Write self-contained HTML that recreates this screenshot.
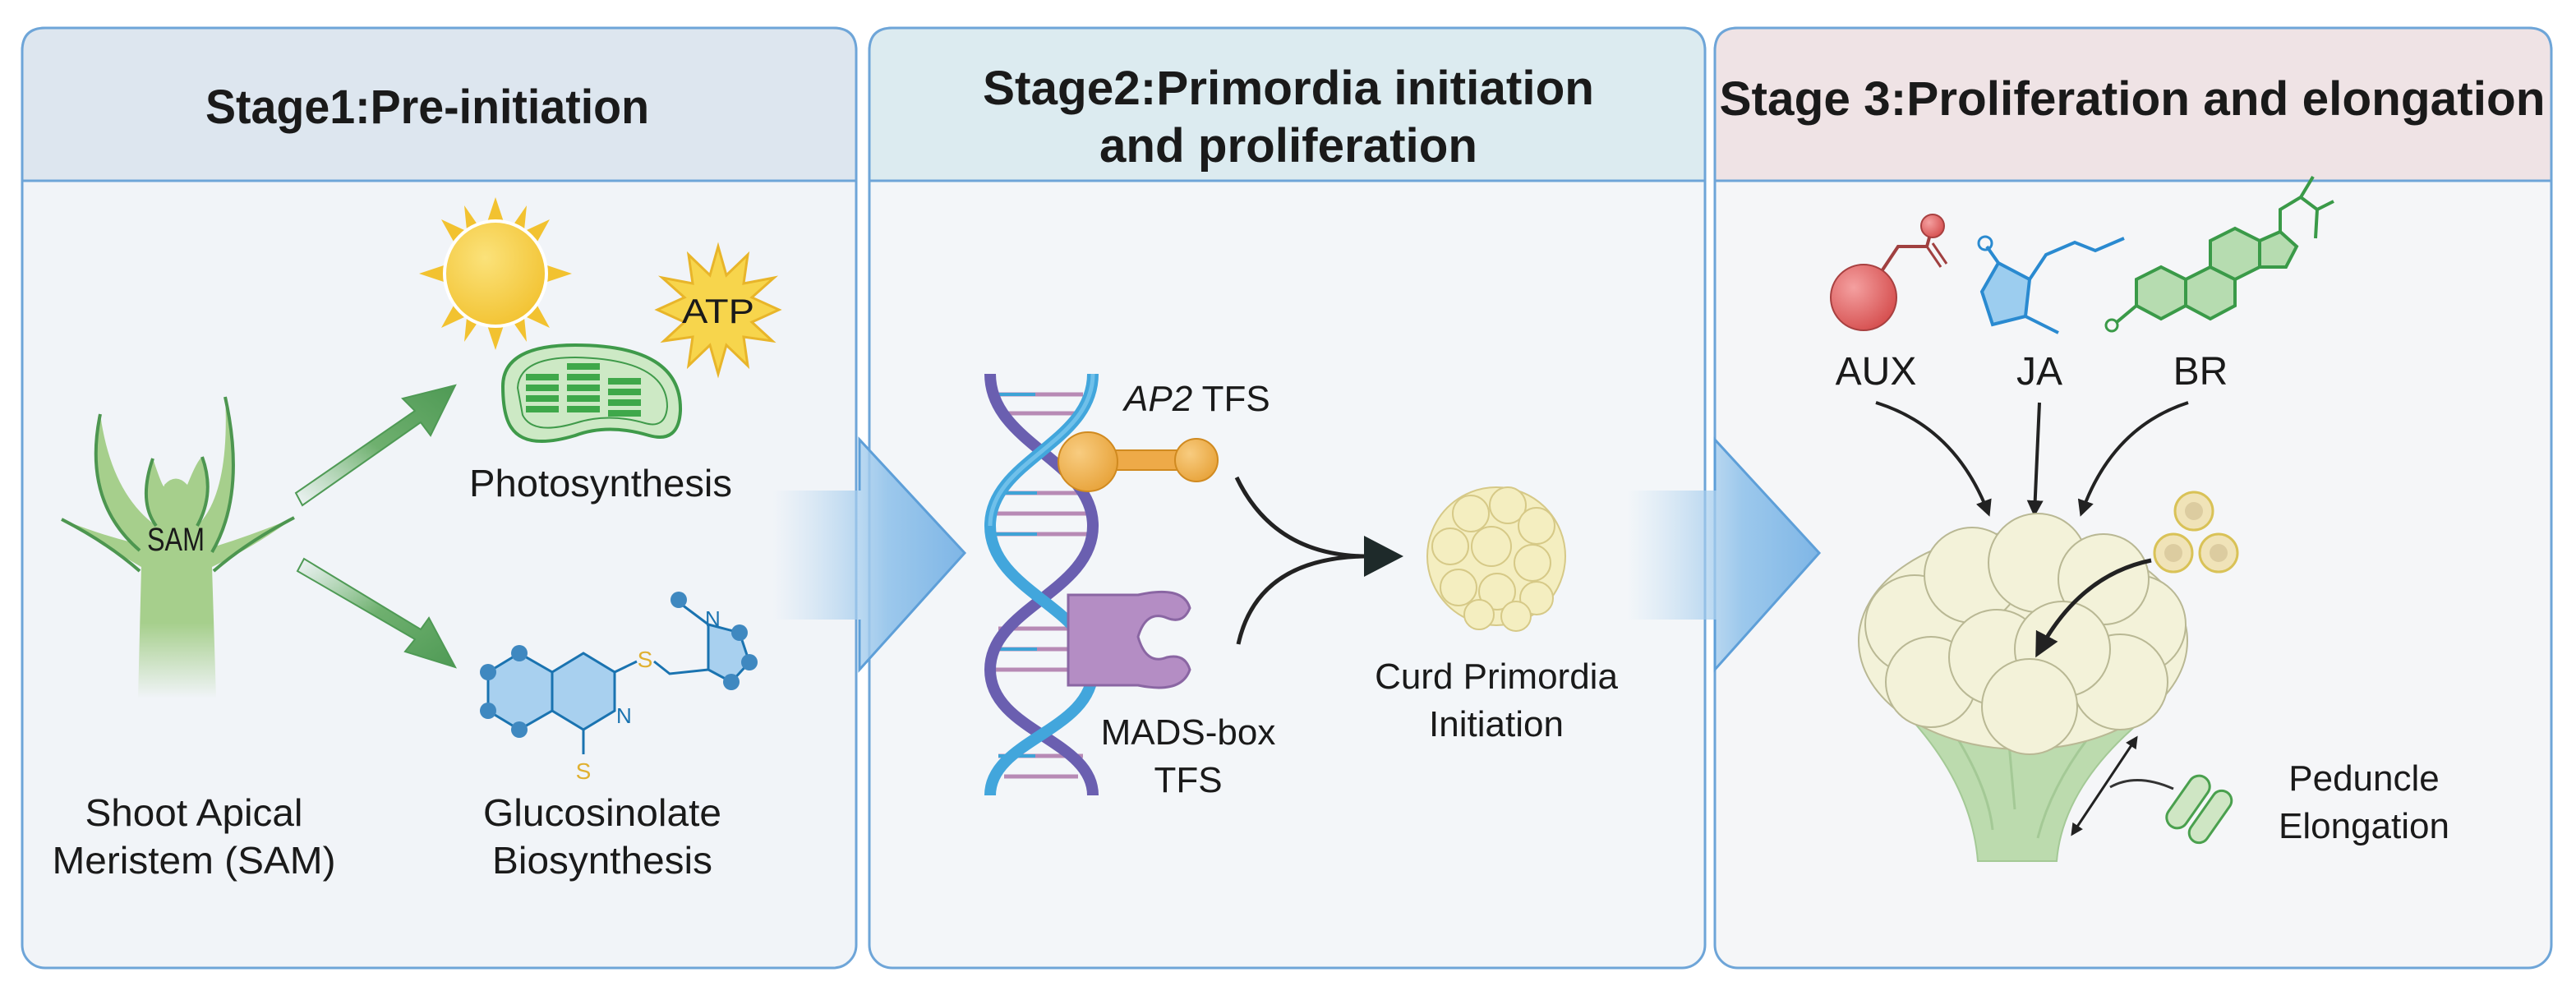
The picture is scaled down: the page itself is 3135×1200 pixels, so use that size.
<!DOCTYPE html>
<html><head><meta charset="utf-8"><style>
html,body{margin:0;padding:0;background:#fff;}
svg{display:block;}
text{font-family:"Liberation Sans",sans-serif;fill:#1a1a1a;}
</style></head><body>
<svg width="3135" height="1200" viewBox="0 0 3135 1200" xmlns="http://www.w3.org/2000/svg">
<defs>
<linearGradient id="ag" x1="0" x2="1" y1="0" y2="0">
<stop offset="0" stop-color="#bcd9f0" stop-opacity="0"/>
<stop offset="0.6" stop-color="#9cc8ec"/>
<stop offset="1" stop-color="#7fb6e6"/>
</linearGradient>
<linearGradient id="gr1" x1="0" x2="1" y1="1" y2="0">
<stop offset="0" stop-color="#7fbf7f" stop-opacity="0"/>
<stop offset="0.5" stop-color="#6fb06f"/>
<stop offset="1" stop-color="#4f9a55"/>
</linearGradient>
<linearGradient id="gr2" x1="0" x2="1" y1="0" y2="1">
<stop offset="0" stop-color="#7fbf7f" stop-opacity="0"/>
<stop offset="0.5" stop-color="#6fb06f"/>
<stop offset="1" stop-color="#4f9a55"/>
</linearGradient>
<linearGradient id="stemfade" x1="0" x2="0" y1="0" y2="1">
<stop offset="0.75" stop-color="#a6cf8c"/>
<stop offset="1" stop-color="#a6cf8c" stop-opacity="0"/>
</linearGradient>
<radialGradient id="sun" cx="0.4" cy="0.35" r="0.7">
<stop offset="0" stop-color="#fbe27a"/><stop offset="1" stop-color="#f2c230"/>
</radialGradient>
<radialGradient id="red" cx="0.35" cy="0.35" r="0.7">
<stop offset="0" stop-color="#f4a0a0"/><stop offset="1" stop-color="#d65050"/>
</radialGradient>
<radialGradient id="org" cx="0.35" cy="0.35" r="0.7">
<stop offset="0" stop-color="#f8cc80"/><stop offset="1" stop-color="#e8a43c"/>
</radialGradient>
<marker id="ah" viewBox="0 0 10 10" refX="8" refY="5" markerWidth="5" markerHeight="5" orient="auto-start-reverse">
<path d="M0,0 L10,5 L0,10 z" fill="#222"/></marker>
<marker id="ahs" viewBox="0 0 10 10" refX="8" refY="5" markerWidth="6" markerHeight="6" orient="auto-start-reverse">
<path d="M0,0 L10,5 L0,10 z" fill="#222"/></marker>
</defs>

<!-- Panels -->
<g stroke="#6ea5d8" stroke-width="3">
<rect x="27" y="34" width="1015" height="1144" rx="28" fill="#f1f4f8"/>
<path d="M27,220 V62 Q27,34 55,34 H1014 Q1042,34 1042,62 V220 Z" fill="#dde6ef"/>
<rect x="1058" y="34" width="1017" height="1144" rx="28" fill="#f3f6f9"/>
<path d="M1058,220 V62 Q1058,34 1086,34 H2047 Q2075,34 2075,62 V220 Z" fill="#dcebf0"/>
<rect x="2087" y="34" width="1018" height="1144" rx="28" fill="#f5f6f8"/>
<path d="M2087,220 V62 Q2087,34 2115,34 H3077 Q3105,34 3105,62 V220 Z" fill="#efe3e5"/>
</g>

<!-- Titles -->
<text x="520" y="150" font-size="58" font-weight="bold" text-anchor="middle" textLength="540" lengthAdjust="spacingAndGlyphs">Stage1:Pre-initiation</text>
<text x="1568" y="127" font-size="58" font-weight="bold" text-anchor="middle" textLength="744" lengthAdjust="spacingAndGlyphs">Stage2:Primordia initiation</text>
<text x="1568" y="197" font-size="58" font-weight="bold" text-anchor="middle" textLength="460" lengthAdjust="spacingAndGlyphs">and proliferation</text>
<text x="2595" y="140" font-size="58" font-weight="bold" text-anchor="middle" textLength="1005" lengthAdjust="spacingAndGlyphs">Stage 3:Proliferation and elongation</text>

<!-- Transition arrows -->
<path d="M940,597 H1046 V535 L1174,673 L1046,815 V754 H940 Z" fill="url(#ag)"/>
<path d="M1046,597 V535 L1174,673 L1046,815 V754" fill="none" stroke="#5e9fd8" stroke-width="3"/>
<path d="M1980,597 H2087 V535 L2214,673 L2087,815 V754 H1980 Z" fill="url(#ag)"/>
<path d="M2087,597 V535 L2214,673 L2087,815 V754" fill="none" stroke="#5e9fd8" stroke-width="3"/>

<!-- Stage 1: plant -->
<g stroke="#4d9650" stroke-width="4" fill="#a6cf8c">
<path d="M168,850 L172,690 Q120,660 75,632 Q120,650 160,660 Q105,600 122,504 Q135,600 190,640 Q170,600 186,558 Q200,600 200,590 Q214,575 228,590 Q240,560 246,556 Q258,600 240,640 Q280,600 274,483 Q300,600 262,665 Q310,650 358,630 Q310,665 258,690 L263,850 Z" fill="url(#stemfade)" stroke="none"/>
<path d="M122,504 Q100,610 170,670" fill="none"/>
<path d="M274,483 Q300,600 258,672" fill="none"/>
<path d="M186,558 Q168,610 190,640" fill="none"/>
<path d="M246,556 Q262,600 240,640" fill="none"/>
<path d="M75,632 Q130,660 170,695" fill="none"/>
<path d="M358,630 Q300,660 260,695" fill="none"/>
</g>
<text x="214" y="670" font-size="40" text-anchor="middle" textLength="70" lengthAdjust="spacingAndGlyphs">SAM</text>
<text x="236" y="1005" font-size="46" text-anchor="middle" textLength="265" lengthAdjust="spacingAndGlyphs">Shoot Apical</text>
<text x="236" y="1063" font-size="46" text-anchor="middle" textLength="345" lengthAdjust="spacingAndGlyphs">Meristem (SAM)</text>

<!-- green arrows -->
<path d="M360,600 L505,500 L490,485 L554,469 L524,530 L512,514 L368,615 Z" fill="url(#gr1)" stroke="#4f9a55" stroke-width="2"/>
<path d="M362,695 L505,778 L493,793 L554,812 L522,752 L512,766 L370,680 Z" fill="url(#gr2)" stroke="#4f9a55" stroke-width="2"/>

<!-- sun -->
<g fill="#f2c230">
<polygon points="603,240 613,270 593,270"/><polygon points="603,426 613,396 593,396"/>
<polygon points="510,333 540,323 540,343"/><polygon points="696,333 666,323 666,343"/>
<polygon points="537,267 565,280 552,294"/><polygon points="669,267 641,280 654,294"/>
<polygon points="537,399 565,386 552,372"/><polygon points="669,399 641,386 654,372"/>
<polygon points="565,250 583,276 568,280"/><polygon points="641,250 623,276 638,280"/>
<polygon points="565,416 583,390 568,386"/><polygon points="641,416 623,390 638,386"/>
</g>
<ellipse cx="603" cy="333" rx="62" ry="64" fill="url(#sun)" stroke="#fff" stroke-width="4"/>
<!-- ATP -->
<polygon points="874,300 884,335 910,310 905,345 942,338 915,362 948,377 915,392 940,415 905,410 910,445 884,420 874,455 864,420 838,445 843,410 808,415 833,392 800,377 833,362 806,338 843,345 838,310 864,335" fill="#f7d54c" stroke="#e8b52a" stroke-width="3"/>
<text x="874" y="393" font-size="42" text-anchor="middle" textLength="88" lengthAdjust="spacingAndGlyphs">ATP</text>
<!-- chloroplast -->
<path d="M612,470 Q612,420 700,420 Q830,420 828,500 Q826,540 790,530 Q740,515 700,530 Q640,548 622,520 Q612,505 612,470 Z" fill="#cde9c5" stroke="#3f9a4a" stroke-width="4"/>
<path d="M630,472 Q632,435 700,435 Q812,437 812,495 Q810,522 785,515 Q740,502 700,515 Q648,530 636,505 Z" fill="none" stroke="#3f9a4a" stroke-width="2"/>
<g fill="#3fa84a">
<rect x="640" y="455" width="40" height="8"/><rect x="640" y="468" width="40" height="8"/><rect x="640" y="481" width="40" height="8"/><rect x="640" y="494" width="40" height="8"/>
<rect x="690" y="442" width="40" height="8"/><rect x="690" y="455" width="40" height="8"/><rect x="690" y="468" width="40" height="8"/><rect x="690" y="481" width="40" height="8"/><rect x="690" y="494" width="40" height="8"/>
<rect x="740" y="460" width="40" height="8"/><rect x="740" y="473" width="40" height="8"/><rect x="740" y="486" width="40" height="8"/><rect x="740" y="499" width="40" height="8"/>
</g>
<text x="731" y="604" font-size="46" text-anchor="middle" textLength="320" lengthAdjust="spacingAndGlyphs">Photosynthesis</text>

<!-- glucosinolate molecule -->
<g stroke="#1a73b0" stroke-width="3" fill="#a8d0ef">
<polygon points="632,795 672,818 672,865 632,888 594,865 594,818"/>
<polygon points="672,818 710,795 748,818 748,865 710,888 672,865"/>
<polygon points="862,760 900,770 912,806 890,830 862,815"/>
</g>
<g stroke="#1a73b0" stroke-width="3" fill="none">
<path d="M748,818 L775,805"/><path d="M796,805 L815,820 L862,815"/>
<path d="M710,888 L710,918"/><path d="M862,760 L826,733"/>
</g>
<g fill="#3f88c0">
<circle cx="632" cy="795" r="10"/><circle cx="594" cy="818" r="10"/><circle cx="594" cy="865" r="10"/><circle cx="632" cy="888" r="10"/>
<circle cx="826" cy="730" r="10"/><circle cx="900" cy="770" r="10"/><circle cx="912" cy="806" r="10"/><circle cx="890" cy="830" r="10"/>
</g>
<text x="785" y="812" font-size="28" fill="#e0b030" style="fill:#e0b030" text-anchor="middle">S</text>
<text x="750" y="880" font-size="26" style="fill:#1a73b0">N</text>
<text x="858" y="762" font-size="26" style="fill:#1a73b0">N</text>
<text x="710" y="948" font-size="28" style="fill:#e0b030" text-anchor="middle">S</text>
<text x="733" y="1005" font-size="46" text-anchor="middle" textLength="290" lengthAdjust="spacingAndGlyphs">Glucosinolate</text>
<text x="733" y="1063" font-size="46" text-anchor="middle" textLength="268" lengthAdjust="spacingAndGlyphs">Biosynthesis</text>

<!-- Stage 2: DNA -->
<g stroke-width="5">
<g stroke="#b78ab5">
<line x1="1215" y1="480" x2="1318" y2="480"/><line x1="1222" y1="503" x2="1312" y2="503"/>
<line x1="1212" y1="600" x2="1322" y2="600"/><line x1="1210" y1="625" x2="1325" y2="625"/><line x1="1210" y1="650" x2="1325" y2="650"/>
<line x1="1215" y1="765" x2="1318" y2="765"/><line x1="1210" y1="790" x2="1325" y2="790"/><line x1="1210" y1="815" x2="1325" y2="815"/>
<line x1="1215" y1="920" x2="1318" y2="920"/><line x1="1222" y1="945" x2="1312" y2="945"/>
</g>
<g stroke="#3ea3d6" stroke-width="4">
<line x1="1215" y1="480" x2="1260" y2="480"/><line x1="1212" y1="600" x2="1262" y2="600"/><line x1="1210" y1="650" x2="1262" y2="650"/>
<line x1="1210" y1="790" x2="1262" y2="790"/><line x1="1215" y1="920" x2="1260" y2="920"/>
</g>
</g>
<path d="M1205,455 C1205,540 1330,560 1330,640 C1330,720 1205,740 1205,815 C1205,890 1330,900 1330,968" fill="none" stroke="#6a5fb0" stroke-width="14"/>
<path d="M1330,455 C1330,540 1205,560 1205,640 C1205,720 1330,740 1330,815 C1330,890 1205,900 1205,968" fill="none" stroke="#42a6dc" stroke-width="14"/>
<path d="M1330,455 C1330,540 1205,560 1205,640" fill="none" stroke="#6fc0ea" stroke-width="5"/>
<!-- AP2 dumbbell -->
<rect x="1320" y="548" width="135" height="24" fill="#eeaa48" stroke="#d08a20" stroke-width="2"/>
<circle cx="1456" cy="560" r="26" fill="url(#org)" stroke="#d08a20" stroke-width="2"/>
<circle cx="1324" cy="562" r="36" fill="url(#org)" stroke="#d08a20" stroke-width="2"/>
<text x="1368" y="500" font-size="44"><tspan font-style="italic">AP2</tspan> TFS</text>
<!-- MADS C shape -->
<path d="M1300,724 H1385 Q1440,712 1448,740 Q1440,760 1420,752 Q1395,742 1385,775 Q1395,810 1420,800 Q1442,795 1448,815 Q1438,845 1385,834 H1300 Z" fill="#b48dc4" stroke="#8a66a3" stroke-width="3"/>
<text x="1446" y="906" font-size="44" text-anchor="middle">MADS-box</text>
<text x="1446" y="964" font-size="44" text-anchor="middle">TFS</text>
<!-- curved arrows -->
<path d="M1505,581 Q1550,675 1660,677" fill="none" stroke="#222" stroke-width="5"/>
<path d="M1507,784 Q1530,680 1660,677" fill="none" stroke="#222" stroke-width="5"/>
<polygon points="1660,652 1708,677 1660,702" fill="#1e2a2a"/>
<!-- curd primordia -->
<g fill="#f4eec0" stroke="#d6c987" stroke-width="2">
<circle cx="1821" cy="677" r="84"/>
<circle cx="1790" cy="625" r="22"/><circle cx="1835" cy="615" r="22"/><circle cx="1870" cy="640" r="22"/>
<circle cx="1765" cy="665" r="22"/><circle cx="1815" cy="665" r="24"/><circle cx="1865" cy="685" r="22"/>
<circle cx="1775" cy="715" r="22"/><circle cx="1822" cy="720" r="22"/><circle cx="1870" cy="728" r="20"/>
<circle cx="1800" cy="748" r="18"/><circle cx="1845" cy="750" r="18"/>
</g>
<text x="1821" y="838" font-size="44" text-anchor="middle">Curd Primordia</text>
<text x="1821" y="896" font-size="44" text-anchor="middle">Initiation</text>

<!-- Stage 3: molecules -->
<path d="M2290,330 L2310,300 L2345,300 L2351,278" fill="none" stroke="#a04040" stroke-width="4"/>
<path d="M2345,300 L2362,325 M2352,296 L2369,321" stroke="#a04040" stroke-width="3"/>
<circle cx="2268" cy="362" r="40" fill="url(#red)" stroke="#a84040" stroke-width="2"/>
<circle cx="2352" cy="275" r="14" fill="url(#red)" stroke="#a84040" stroke-width="2"/>
<text x="2283" y="468" font-size="48" text-anchor="middle">AUX</text>

<polygon points="2432,320 2470,340 2465,385 2425,395 2412,355" fill="#9ccdef" stroke="#2a8ad0" stroke-width="4"/>
<path d="M2432,320 L2418,300 M2470,340 L2490,310 L2525,295 L2550,305 L2585,290 M2465,385 L2505,405" fill="none" stroke="#2a8ad0" stroke-width="4"/>
<circle cx="2416" cy="296" r="8" fill="none" stroke="#2a8ad0" stroke-width="3"/>
<text x="2482" y="468" font-size="48" text-anchor="middle">JA</text>

<g fill="#b6dcb0" stroke="#3a9a48" stroke-width="4">
<polygon points="2600,340 2630,325 2660,340 2660,372 2630,388 2600,372"/>
<polygon points="2660,340 2690,325 2720,340 2720,372 2690,388 2660,372"/>
<polygon points="2690,325 2690,293 2720,278 2750,293 2750,325 2720,340"/>
<polygon points="2750,293 2775,282 2795,300 2782,325 2750,325"/>
</g>
<path d="M2600,372 L2575,393 M2775,282 L2775,255 L2800,240 L2815,215 M2800,240 L2820,255 L2818,290 M2820,255 L2840,245" fill="none" stroke="#3a9a48" stroke-width="4"/>
<circle cx="2570" cy="396" r="7" fill="none" stroke="#3a9a48" stroke-width="3"/>
<text x="2678" y="468" font-size="48" text-anchor="middle">BR</text>

<!-- hormone arrows -->
<path d="M2283,490 Q2380,520 2420,625" fill="none" stroke="#222" stroke-width="4" marker-end="url(#ah)"/>
<path d="M2482,490 L2476,625" fill="none" stroke="#222" stroke-width="4" marker-end="url(#ah)"/>
<path d="M2663,490 Q2570,520 2533,625" fill="none" stroke="#222" stroke-width="4" marker-end="url(#ah)"/>

<!-- cauliflower stem -->
<path d="M2330,880 Q2400,960 2407,1048 H2503 Q2510,960 2603,880 Z" fill="#bcdbae" stroke="#a4c996" stroke-width="2"/>
<path d="M2380,895 Q2420,960 2425,1010 M2445,905 L2452,985 M2540,900 Q2495,960 2480,1020" fill="none" stroke="#a4c996" stroke-width="3"/>
<!-- curd -->
<g fill="#f3f2d9" stroke="#b9b894" stroke-width="2">
<ellipse cx="2462" cy="780" rx="200" ry="132"/>
<circle cx="2330" cy="760" r="60"/><circle cx="2600" cy="760" r="60"/>
<circle cx="2400" cy="700" r="58"/><circle cx="2480" cy="685" r="60"/><circle cx="2560" cy="705" r="55"/>
<circle cx="2350" cy="830" r="55"/><circle cx="2580" cy="830" r="58"/>
<circle cx="2430" cy="800" r="58"/><circle cx="2510" cy="790" r="58"/>
<circle cx="2470" cy="860" r="58"/>
</g>
<!-- cells -->
<g fill="#f0e3b8" stroke="#d9c257" stroke-width="3">
<circle cx="2670" cy="622" r="23"/><circle cx="2645" cy="673" r="23"/><circle cx="2700" cy="673" r="23"/>
</g>
<g fill="#dccca0"><circle cx="2670" cy="622" r="11"/><circle cx="2645" cy="673" r="11"/><circle cx="2700" cy="673" r="11"/></g>
<path d="M2618,682 Q2530,700 2480,795" fill="none" stroke="#222" stroke-width="5" marker-end="url(#ahs)"/>
<!-- double arrow -->
<path d="M2522,1015 L2600,898" fill="none" stroke="#222" stroke-width="3" marker-start="url(#ah)" marker-end="url(#ah)"/>
<path d="M2645,960 Q2600,940 2568,958" fill="none" stroke="#333" stroke-width="3"/>
<!-- green cells -->
<g fill="#cfe6c4" stroke="#4aa04e" stroke-width="3">
<rect x="2650" y="940" width="26" height="72" rx="13" transform="rotate(35 2663 976)"/>
<rect x="2678" y="958" width="24" height="72" rx="12" transform="rotate(35 2690 994)"/>
</g>
<text x="2877" y="962" font-size="44" text-anchor="middle">Peduncle</text>
<text x="2877" y="1020" font-size="44" text-anchor="middle">Elongation</text>
</svg>
</body></html>
